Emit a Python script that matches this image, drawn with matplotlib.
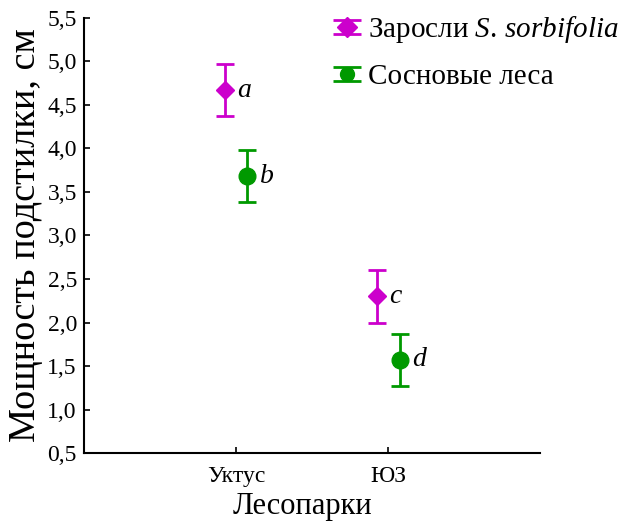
import matplotlib.pyplot as plt
from matplotlib.legend_handler import HandlerErrorbar

# data
parks = ["Уктус", "ЮЗ"]
thicket_mean = [4.67, 2.30]
thicket_err = [0.30, 0.30]
pine_mean = [3.68, 1.57]
pine_err = [0.30, 0.30]
thicket_letters = ["a", "c"]
pine_letters = ["b", "d"]

plt.rcParams['font.family'] = ['Liberation Serif', 'DejaVu Serif']
plt.rcParams['mathtext.fontset'] = 'custom'
plt.rcParams['mathtext.it'] = 'Liberation Serif:italic'
plt.rcParams['mathtext.rm'] = 'Liberation Serif'

magenta = "#cc00cc"
green = "#009900"

fig = plt.figure(figsize=(6.21, 5.25), dpi=100)
ax = fig.add_axes([0.135, 0.137, 0.735, 0.829])

x = [1, 2]
off = 0.075
x1 = [v - off for v in x]
x2 = [v + off for v in x]

ax.errorbar(x1, thicket_mean, yerr=thicket_err, fmt="D", color=magenta,
            ms=9.5, lw=2, capsize=6.5, capthick=2,
            label=r"Заросли $\it{S.\,sorbifolia}$")
ax.errorbar(x2, pine_mean, yerr=pine_err, fmt="o", color=green,
            ms=12, lw=2, capsize=6.5, capthick=2, label="Сосновые леса")

for xi, yi, t in zip(x1, thicket_mean, thicket_letters):
    ax.text(xi + 0.08, yi, t, style="italic", fontsize=20, va="center")
for xi, yi, t in zip(x2, pine_mean, pine_letters):
    ax.text(xi + 0.08, yi, t, style="italic", fontsize=20, va="center")

ax.set_xlim(0, 3)
ax.set_ylim(0.5, 5.5)
ax.set_xticks(x)
ax.set_xticklabels(parks, fontsize=17)
yt = [0.5 + 0.5 * i for i in range(11)]
ax.set_yticks(yt)
ax.set_yticklabels([f"{v:.1f}".replace(".", ",") for v in yt], fontsize=17)
ax.tick_params(direction="in", length=4, width=1.2, pad=5)
ax.tick_params(axis="x", pad=9)
ax.spines["top"].set_visible(False)
ax.spines["right"].set_visible(False)
ax.spines["left"].set_linewidth(1.5)
ax.spines["bottom"].set_linewidth(1.5)

ax.set_xlabel("Лесопарки", fontsize=22, labelpad=4)
ax.xaxis.label.set_x(0.478)
ax.set_ylabel("Мощность подстилки, см", fontsize=27.5, labelpad=3)


# squat legend handles with wide caps, like the original
def legend_style(handle, orig):
    handle.update_from(orig)
    if not hasattr(handle, "get_marker"):
        return
    if handle.get_marker() == "_":
        handle.set_markersize(20)
    elif handle.get_marker() in ("D", "o"):
        handle.set_markersize(10)


hm = {type(ax.containers[0]): HandlerErrorbar(yerr_size=0.25, update_func=legend_style)}
ax.legend(loc="upper left", bbox_to_anchor=(332 / 621, 1 - 14 / 525),
          bbox_transform=fig.transFigure, borderpad=0, borderaxespad=0,
          frameon=False, fontsize=21, handlelength=1.0, handletextpad=0.25,
          labelspacing=0.65, handler_map=hm)

plt.savefig("out.png", dpi=100)
